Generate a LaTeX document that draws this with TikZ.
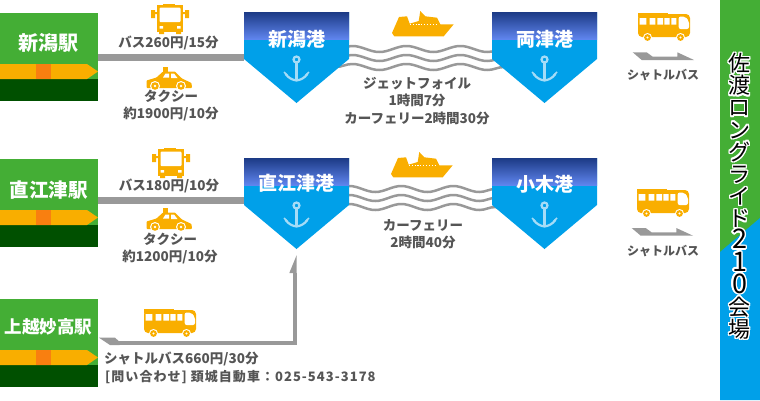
\documentclass[tikz,border=0pt]{standalone}
\usepackage{fontspec}
\usepackage{contour}
\usepackage{xcolor}
\usetikzlibrary{calc, backgrounds, decorations.pathmorphing}
\setmainfont{Noto Sans CJK JP}
\contourlength{1.4pt}
\contournumber{16}
\newcommand{\venuesize}{\fontsize{22}{22.15}\selectfont\lineskiplimit=-100pt\relax}
\newcommand{\venuechar}[1]{\contour{white}{#1}}
\newcommand{\venuedigit}[1]{{\fontsize{27}{22.15}\selectfont\contour{white}{#1}}}

\definecolor{stationgreen}{HTML}{44AE35}
\definecolor{stationdark}{HTML}{005000}
\definecolor{iconorange}{HTML}{F9AE00}
\definecolor{bandmark}{HTML}{F97F10}
\definecolor{portblue}{HTML}{00A0E9}
\definecolor{porttop}{HTML}{1C3A85}
\definecolor{portlight}{HTML}{5F85EE}
\definecolor{anchorblue}{HTML}{A5DCF7}
\definecolor{linegray}{HTML}{999999}
\definecolor{textgray}{HTML}{555555}

\tikzset{
  stationbox/.style={fill=stationgreen, minimum width=98, minimum height=88, inner sep=0, outer sep=0},
  portbox/.style={minimum width=105, minimum height=91, inner sep=0, outer sep=0},
  whitelabel/.style={text=white, font=\fontsize{#1}{#1}\bfseries\selectfont, inner sep=0},
  info/.style={text=textgray, align=center, inner sep=0, font=\fontsize{13.5}{17.5}\bfseries\selectfont},
  connector/.style={draw=linegray, line width=7},
  wave/.style={draw=linegray, line width=2.5, decorate, decoration={snake, amplitude=3, segment length=#1}},
  pics/busfront/.style={code={
    \fill[iconorange] (6,2) rectangle (32,29);
    \fill[iconorange] (12,0.5) rectangle (24,2);
    \fill[iconorange] (0,7) rectangle (4,15) (34,7) rectangle (38,15);
    \fill[iconorange] (4,9) rectangle (6,11) (32,9) rectangle (34,11);
    \fill[iconorange] (8,29) rectangle (13,31) (25,29) rectangle (30,31);
    \fill[white, rounded corners=1] (8.5,4.5) rectangle (29.5,19);
    \fill[white] (8.5,23) rectangle (12,25.5) (26,23) rectangle (29.5,25.5);
  }},
  pics/taxi/.style={code={
    \fill[iconorange] (16.5,0) rectangle (22,4.5);
    \fill[iconorange, rounded corners=0.8] (10.5,10.5) -- (17,4.5) -- (29,4.5) -- (36,11.5) -- (45.5,16) -- (46,21) -- (0.5,21) -- (0.5,13.5) -- cycle;
    \fill[white] (17,10.5) -- (19.5,6.5) -- (23,6.5) -- (23,10.5) -- cycle;
    \fill[white] (25,6.5) -- (28,6.5) -- (31.5,11) -- (25,11) -- cycle;
    \foreach \wx in {9,35} {
      \fill[white] (\wx,19) circle (5);
      \fill[iconorange] (\wx,19) circle (3.8);
      \fill[white] (\wx,19) circle (1.3);
    }
  }},
  pics/ship/.style={code={
    \fill[iconorange] (0,22) -- (7,6) -- (15,5.3) -- (17.7,12.7) -- (26.7,10) -- (28.3,0) -- (33.3,5.3) -- (45,6.7) -- (48.3,13.3) -- (61.7,13.3) -- (51.7,25.3) -- (2.3,25.3) -- cycle;
    \draw[white, line width=1, dash pattern=on 1.2 off 1.6] (18,13) -- (35,13) (38,13) -- (45,13);
  }},
  pics/shuttle/.style={code={
    \fill[iconorange, rounded corners=4] (0,1) -- (0,24) -- (52,24) -- (52,1) -- cycle;
    \fill[iconorange] (0,0) rectangle (30,4);
    \fill[white] (1.7,5) rectangle (8.3,11.7) (11.7,5) rectangle (17.3,11.7) (19.3,5) rectangle (25,11.7) (26.3,5) rectangle (31.7,11.7) (33.3,5) rectangle (38.3,11.7);
    \fill[white, rounded corners=2] (40.7,3.5) -- (47,3.5) -- (51,8) -- (51,16) -- (40.7,16) -- cycle;
    \foreach \wx in {9.5,42.5} {
      \fill[white] (\wx,24.5) circle (4.5);
      \fill[iconorange] (\wx,24.5) circle (3.4);
      \fill[white] (\wx,24.5) circle (1.2);
    }
  }},
  pics/shuttlepath/.style={code={
    \fill[linegray] (0,0) -- (14,0) -- (20,4.4) -- (44.6,4.4) -- (44.6,0) -- (61.3,7.7) -- (9,7.7) -- cycle;
  }},
  pics/anchormark/.style={code={
    \draw[anchorblue, line width=2.2] (0,47.5) circle (3);
    \draw[anchorblue, line width=2.2] (0,50.5) -- (0,68);
    \draw[anchorblue, line width=2.2] (-11,62) .. controls (-8,66) and (-4,68) .. (0,68.5) .. controls (4,68) and (8,66) .. (11,62);
    \draw[anchorblue, line width=1.5] (-12.5,60) -- (-9,63.5) (12.5,60) -- (9,63.5);
  }},
}

% station block: name, centre y, label y, font size, label
\newcommand{\stationblock}[5]{
  \node[stationbox] (#1) at (49,#2) {};
  \fill[stationdark] ($(#1.south west)+(0,-22)$) rectangle (#1.south east);
  \fill[iconorange] ($(#1.west)+(0,7)$) -- ++(87,0) -- ($(#1.east)+(0,14.5)$) -- ($(#1.west)+(87,22)$) -- ($(#1.west)+(0,22)$) -- cycle;
  \fill[bandmark] ($(#1.west)+(36,7)$) rectangle ($(#1.west)+(51,22)$);
  \node[whitelabel=#4] (#1label) at (48.5,#3) {#5};
}
% harbour block: name, centre x, top y, label y, label
\newcommand{\harbourblock}[5]{
  \node[portbox] (#1) at (#2,#3+45.5) {};
  \fill[portblue] (#1.north west) -- (#1.north east) -- ($(#1.north east)+(0,47)$) -- (#1.south) -- ($(#1.north west)+(0,47)$) -- cycle;
  \shade[top color=porttop, bottom color=portlight] (#1.north west) rectangle ($(#1.north east)+(0,27)$);
  \pic at (#1.north) {anchormark};
  \node[whitelabel=19] (#1label) at (#2,#4) {#5};
}

\begin{document}
\begin{tikzpicture}[>=latex, x=1pt, y=-1pt]
    \useasboundingbox (0,0) rectangle (760,400);

    % 1. Right-hand band with the venue name
    \fill[stationgreen] (720,0) rectangle (760,400);
    \fill[portblue] (720,252) -- (760,218) -- (760,400) -- (720,400) -- cycle;
    \node[align=center, inner sep=0, text=black, font=\venuesize] (venue) at (739.5,197) {\venuechar{佐}\\\venuechar{渡}\\\venuechar{ロ}\\\venuechar{ン}\\\venuechar{グ}\\\venuechar{ラ}\\\venuechar{イ}\\\venuechar{ド}\\\venuedigit{2}\\\venuedigit{1}\\\venuedigit{0}\\\venuechar{会}\\\venuechar{場}};

    % 2. Stations on the left
    \stationblock{niigataSt}{57}{43}{20}{新潟駅}
    \stationblock{naoetsuSt}{203}{190}{19.5}{直江津駅}
    \stationblock{joetsuSt}{343}{327}{17.5}{上越妙高駅}

    % 3. Harbours
    \harbourblock{niigataPort}{296.5}{12}{39.5}{新潟港}
    \harbourblock{ryotsuPort}{544.5}{12}{39.5}{両津港}
    \harbourblock{naoetsuPort}{296.5}{158}{183.5}{直江津港}
    \harbourblock{ogiPort}{544.5}{158}{184}{小木港}

    % 4. Connectors and waves, behind the blocks
    \begin{scope}[on background layer]
      \draw[connector] (niigataSt.east) -- (niigataSt.east -| niigataPort.west);
      \draw[connector] ([yshift=2.5]naoetsuSt.east) -- ([yshift=2.5]naoetsuSt.east -| naoetsuPort.west);
      \foreach \wy in {8.5,-0.5,-9.5}
        \draw[wave=54] ([xshift=-13.5,yshift=\wy]niigataPort.east) -- ([xshift=13,yshift=\wy]ryotsuPort.west);
      \foreach \wy in {14.5,5.5,-3.5}
        \draw[wave=52] ([xshift=-16,yshift=\wy]naoetsuPort.east) -- ([xshift=13,yshift=\wy]ogiPort.west);
    \end{scope}

    % Joetsu line with its tail and half arrow head
    \coordinate (arrowtip) at ([xshift=0.2,yshift=-6]naoetsuPort.south);
    \draw[connector, line width=3.3] ([xshift=12]joetsuSt.east) -| ([xshift=-1.65,yshift=-18]arrowtip);
    \fill[linegray] (arrowtip) -- ([xshift=-7.4,yshift=-18]arrowtip) -- ([yshift=-18]arrowtip) -- cycle;
    \fill[linegray] ([xshift=1,yshift=5.3]joetsuSt.east) -- ++(16,0) -- ++(4.5,4) -- ++(0,3.3) -- ++(-9.5,0) -- cycle;

    % 5. Icons
    \pic at (151,3) {busfront};
    \pic at (152,147) {busfront};
    \pic at (146,67) {taxi};
    \pic at (146,208) {taxi};
    \pic at (392,11) {ship};
    \pic at (391,152) {ship};
    \pic at (638,13) {shuttle};
    \pic at (637,189) {shuttle};
    \pic at (144,309) {shuttle};
    \pic at (632.7,52.3) {shuttlepath};
    \pic at (631.7,228) {shuttlepath};

    % 6. Fares and times
    \node[info] (busA) at (168.5,43) {バス260円/15分};
    \node[info] (taxiA) at (171,105.5) {タクシー\\約1900円/10分};
    \node[info] (busB) at (169,186) {バス180円/10分};
    \node[info] (taxiB) at (170,248.5) {タクシー\\約1200円/10分};
    \node[info] (seaA) at (417,101) {ジェットフォイル\\1時間7分\\カーフェリー2時間30分};
    \node[info] (seaB) at (423,234) {カーフェリー\\2時間40分};
    \node[info, font=\fontsize{12}{12}\bfseries\selectfont] (shuttleA) at (663,75) {シャトルバス};
    \node[info, font=\fontsize{12}{12}\bfseries\selectfont] (shuttleB) at (663,251) {シャトルバス};
    \node[info, anchor=west] (shuttleC) at (104,359) {シャトルバス660円/30分};
    \node[info, anchor=west, font=\fontsize{13}{13}\bfseries\addfontfeature{LetterSpace=8}\selectfont] (contact) at (105,377) {[問い合わせ] 頚城自動車：025-543-3178};

\end{tikzpicture}
\end{document}
